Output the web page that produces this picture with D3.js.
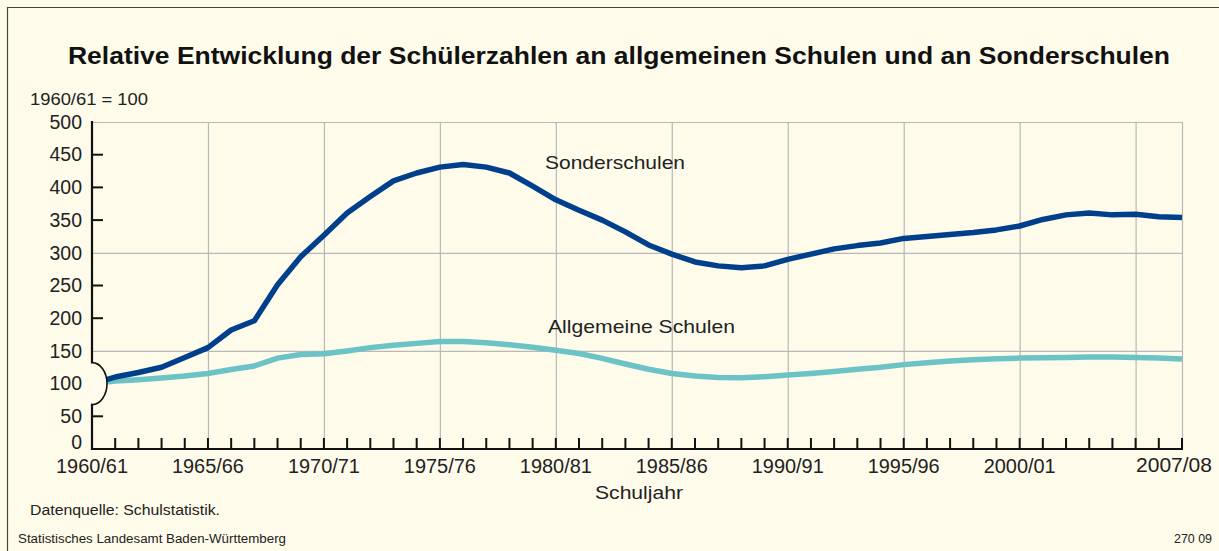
<!DOCTYPE html>
<html>
<head>
<meta charset="utf-8">
<script src="https://cdn.jsdelivr.net/npm/d3@7"></script>
<style>
  body { margin: 0; background: #fefbea; }
  svg { display: block; font-family: "Liberation Sans", Arial, sans-serif; }
</style>
</head>
<body>
<script>
// Schuljahre 1960/61 .. 2007/08 (Index 1960/61 = 100)
var years = d3.range(1960, 2008);
var sonderschulen = [100, 110, 117, 125, 140, 155, 182, 196, 251, 294,
                     327, 361, 386, 410, 422, 431, 435, 431, 422, 402,
                     381, 365, 350, 332, 312, 298, 286, 280, 277, 280,
                     290, 298, 306, 311, 315, 322, 325, 328, 331, 335,
                     341, 351, 358, 361, 358, 359, 355, 354];
var allgemeine = [100, 104, 106, 108.5, 111.5, 115.5, 121.5, 127, 139, 144.5,
                  145.5, 150, 155, 158.5, 161.5, 164.5, 164.5, 162.5, 159.5, 155.5,
                  151, 146, 138.5, 130, 122, 115.5, 111.5, 109.5, 109, 110.5,
                  113, 115.5, 118.5, 122, 125, 129, 132, 134.5, 136.5, 138,
                  139, 139.5, 140, 140.5, 140.5, 140, 139, 137.5];
var yTicks = [0, 50, 100, 150, 200, 250, 300, 350, 400, 450, 500];
var yGrid = [150, 300, 500];
var xLabelYears = [1960, 1965, 1970, 1975, 1980, 1985, 1990, 1995, 2000];
var xGridYears = [1965, 1970, 1975, 1980, 1985, 1990, 1995, 2000, 2005, 2007];

function label(yr) { return yr + "/" + String((yr + 1) % 100).padStart(2, "0"); }

var w = 1219, h = 551;
var pLeft = 92, pRight = 1182, pTop = 122, pBottom = 449;
var bg = "#fefbea";

var svg = d3.select("body").append("svg")
    .attr("width", w).attr("height", h);

svg.append("rect").attr("width", w).attr("height", h).attr("fill", bg);
// frame (top + left only)
svg.append("path").attr("d", "M7.5," + h + "V7.5H" + w)
    .attr("fill", "none").attr("stroke", "#444").attr("stroke-width", 1.2);

var x = d3.scaleLinear().domain([1960, 2007]).range([pLeft, pRight]);
var y = d3.scaleLinear().domain([0, 500]).range([pBottom, pTop]);

// helper for the wider typeface of the original
function txt(xp, yp, size, s, len, anchor) {
  var t = svg.append("text").attr("x", xp).attr("y", yp)
      .attr("font-size", size).attr("fill", "#222")
      .attr("text-anchor", anchor || "start").text(s);
  if (len) t.attr("textLength", len).attr("lengthAdjust", "spacingAndGlyphs");
  return t;
}

// grid
svg.append("g").selectAll("line").data(yGrid).enter().append("line")
    .attr("x1", pLeft).attr("x2", pRight)
    .attr("y1", d => y(d) + 0.5).attr("y2", d => y(d) + 0.5)
    .attr("stroke", "#b8b8b8").attr("stroke-width", 1.2);
svg.append("g").selectAll("line").data(xGridYears).enter().append("line")
    .attr("x1", d => x(d) + 0.5).attr("x2", d => x(d) + 0.5)
    .attr("y1", pTop).attr("y2", pBottom)
    .attr("stroke", "#b8b8b8").attr("stroke-width", 1.2);

// title
txt(619, 64, 23, "Relative Entwicklung der Schülerzahlen an allgemeinen Schulen und an Sonderschulen", 1102, "middle")
    .attr("font-weight", "bold").attr("fill", "#111");

txt(30, 105, 16, "1960/61 = 100", 118);

// y axis
var yAxis = d3.axisLeft(y).tickValues(yTicks).tickSize(0).tickPadding(10);
var gy = svg.append("g").attr("transform", "translate(" + pLeft + ",0)").call(yAxis);
gy.select(".domain").remove();
gy.selectAll("text").attr("font-size", 19.5).attr("fill", "#222")
    .attr("font-family", "'Liberation Sans', Arial, sans-serif")
    .attr("dy", d => d === 0 ? "-0.05em" : "0.32em");

// inner ticks on y axis (where no gridline)
svg.append("g").selectAll("line").data(yTicks.filter(d => yGrid.indexOf(d) < 0 && d > 0))
    .enter().append("line")
    .attr("x1", pLeft).attr("x2", pLeft + 11)
    .attr("y1", d => y(d)).attr("y2", d => y(d))
    .attr("stroke", "#111").attr("stroke-width", 2);

// x axis ticks (every year, upward)
svg.append("g").selectAll("line").data(years).enter().append("line")
    .attr("x1", d => x(d)).attr("x2", d => x(d))
    .attr("y1", pBottom).attr("y2", pBottom - 11)
    .attr("stroke", "#111").attr("stroke-width", 2);

svg.append("line").attr("x1", pLeft).attr("x2", pRight + 1)
    .attr("y1", pBottom).attr("y2", pBottom).attr("stroke", "#111").attr("stroke-width", 2.2);
svg.append("line").attr("x1", pLeft).attr("x2", pLeft)
    .attr("y1", pTop - 1).attr("y2", pBottom + 1).attr("stroke", "#111").attr("stroke-width", 2.2);

// x labels
svg.append("g").selectAll("text").data(xLabelYears).enter().append("text")
    .attr("x", d => x(d)).attr("y", 473).attr("text-anchor", "middle")
    .attr("font-size", 19.5).attr("fill", "#222")
    .attr("textLength", 72).attr("lengthAdjust", "spacingAndGlyphs")
    .text(d => label(d));
txt(1212, 472, 19.5, label(2007), 76, "end");

txt(639, 499, 17.5, "Schuljahr", 88, "middle");

// lines
var line = d3.line().x((d, i) => x(years[i])).y(d => y(d));
svg.append("path").datum(allgemeine).attr("d", line)
    .attr("fill", "none").attr("stroke", "#6cc3c6").attr("stroke-width", 5.5)
    .attr("stroke-linejoin", "round");
svg.append("path").datum(sonderschulen).attr("d", line)
    .attr("fill", "none").attr("stroke", "#003f8c").attr("stroke-width", 5.5)
    .attr("stroke-linejoin", "round");

// axis break symbol
var cy = y(100);
svg.append("path")
    .attr("d", "M" + pLeft + "," + (cy - 21) + " A15,21 0 0,1 " + pLeft + "," + (cy + 21) + " Z")
    .attr("fill", bg).attr("stroke", "none");
svg.append("rect").attr("x", pLeft - 3).attr("y", cy - 20).attr("width", 4).attr("height", 40)
    .attr("fill", bg);
svg.append("path")
    .attr("d", "M" + pLeft + "," + (cy - 21) + " A15,21 0 0,1 " + pLeft + "," + (cy + 21))
    .attr("fill", "none").attr("stroke", "#111").attr("stroke-width", 1.6);

// series labels
txt(545, 169, 19, "Sonderschulen", 140);
txt(548, 333, 19, "Allgemeine Schulen", 187);

// footer
txt(30, 515, 14, "Datenquelle: Schulstatistik.", 190);
txt(18, 543, 12, "Statistisches Landesamt Baden-Württemberg", 268);
txt(1212, 543, 12, "270 09", 38, "end");
</script>
</body>
</html>
